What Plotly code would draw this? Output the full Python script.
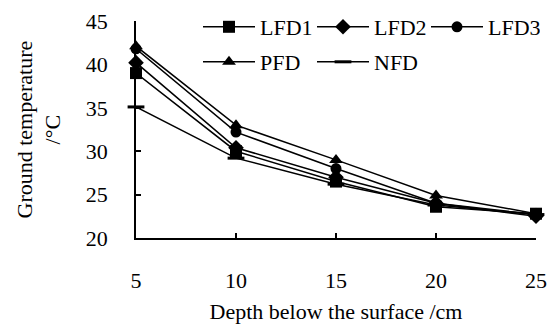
import plotly.graph_objects as go

depth = [5, 10, 15, 20, 25]
lfd1 = [39.0, 30.0, 26.5, 23.6, 22.8]
lfd2 = [40.2, 30.4, 27.0, 24.0, 22.5]
lfd3 = [41.8, 32.2, 28.0, 24.0, 22.7]
pfd = [42.1, 33.0, 29.0, 24.9, 22.8]
nfd = [35.1, 29.2, 26.2, 23.8, 22.7]

FONT = "Liberation Serif"
FS = 22
series = [
    ("LFD1", lfd1, dict(symbol="square", size=12, color="black"), "legend"),
    ("LFD2", lfd2, dict(symbol="diamond", size=12, color="black"), "legend"),
    ("LFD3", lfd3, dict(symbol="circle", size=11, color="black"), "legend"),
    ("PFD", pfd, dict(symbol="triangle-up", size=12, color="black"), "legend2"),
    ("NFD", nfd, dict(symbol="line-ew", size=12, color="black", line=dict(width=3, color="black")), "legend2"),
]

fig = go.Figure()
for name, vals, mk, lg in series:
    fig.add_trace(go.Scatter(
        x=depth, y=vals, name=name, mode="lines+markers",
        line=dict(color="black", width=1.5), marker=mk,
        cliponaxis=False, legend=lg,
    ))

legend_common = dict(
    orientation="h", xref="container", yref="container",
    xanchor="left", yanchor="middle", bgcolor="rgba(0,0,0,0)",
    font=dict(family=FONT, size=FS, color="black"),
    entrywidth=47, entrywidthmode="pixels", itemwidth=52,
)

fig.update_layout(
    width=552, height=325,
    margin=dict(l=136, r=16, t=21, b=87, autoexpand=False),
    paper_bgcolor="white", plot_bgcolor="white",
    font=dict(family=FONT, size=FS, color="black"),
    showlegend=True,
    legend=dict(x=198 / 552, y=1 - 27 / 325, **legend_common),
    legend2=dict(x=198 / 552, y=1 - 62 / 325, **legend_common),
    xaxis=dict(
        range=[5, 25], tickvals=depth, ticks="inside", ticklen=5,
        tickwidth=1.5, tickcolor="black", showline=True, linecolor="black",
        linewidth=1.5, showgrid=False, zeroline=False, mirror=False,
        ticklabelstandoff=22,
        tickfont=dict(family=FONT, size=FS, color="black"),
        title=dict(text="Depth below the surface /cm", standoff=11,
                   font=dict(family=FONT, size=FS, color="black")),
    ),
    yaxis=dict(
        range=[20, 45], tickvals=[20, 25, 30, 35, 40, 45], ticks="inside",
        ticklen=5, tickwidth=1.5, tickcolor="black", showline=True,
        linecolor="black", linewidth=1.5, showgrid=False, zeroline=False,
        ticklabelstandoff=22,
        tickfont=dict(family=FONT, size=FS, color="black"),
    ),
    annotations=[dict(
        text="Ground temperature<br>/°C", xref="paper", yref="paper",
        x=-0.245, y=0.5, xanchor="center", yanchor="middle", textangle=-90,
        showarrow=False, font=dict(family=FONT, size=FS, color="black"),
    )],
)

fig.write_html("out.html")
